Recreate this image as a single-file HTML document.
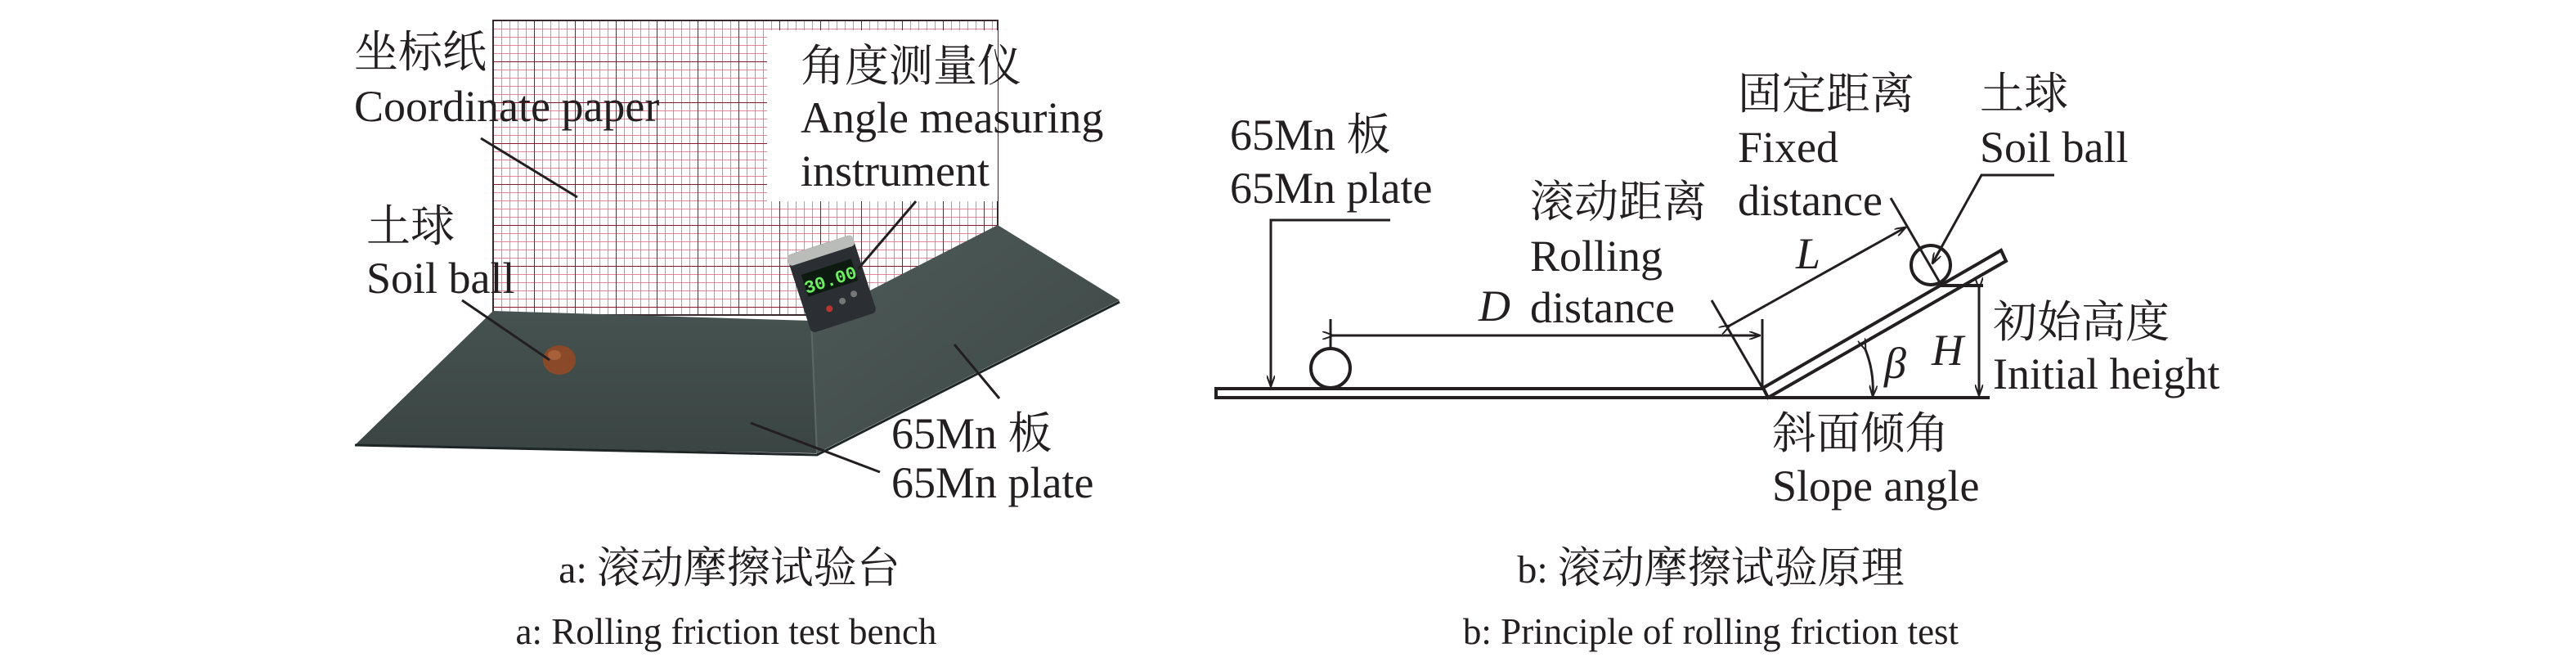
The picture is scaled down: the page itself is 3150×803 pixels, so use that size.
<!DOCTYPE html>
<html><head><meta charset="utf-8"><style>
html,body{margin:0;padding:0;background:#fff;}
svg{display:block;}
text{font-family:"Liberation Serif","Noto Serif CJK SC",serif;fill:#231f20;}
</style></head><body>
<svg width="3150" height="803" viewBox="0 0 3150 803" xmlns="http://www.w3.org/2000/svg">
<defs>
<pattern id="minor" width="10" height="10" patternUnits="userSpaceOnUse" x="603" y="25">
<path d="M0 0H10M0 0V10" stroke="#d9607a" stroke-width="1.5" fill="none"/>
</pattern>
<pattern id="major" width="50" height="50" patternUnits="userSpaceOnUse" x="603" y="25">
<path d="M0 0H50M0 0V50" stroke="#8a1a30" stroke-width="2" fill="none"/>
</pattern>
<linearGradient id="pl1" x1="0" y1="0" x2="0" y2="1">
<stop offset="0" stop-color="#465250"/><stop offset="1" stop-color="#3a4543"/>
</linearGradient>
<linearGradient id="pl2" x1="0" y1="0" x2="1" y2="1">
<stop offset="0" stop-color="#4e5a58"/><stop offset="1" stop-color="#3d4846"/>
</linearGradient>
<marker id="ar" markerWidth="14" markerHeight="10" refX="13" refY="5" orient="auto" markerUnits="userSpaceOnUse">
<path d="M0 0L14 5L0 10" fill="none" stroke="#231f20" stroke-width="2"/>
</marker>
</defs>

<rect x="603" y="25" width="617" height="360" fill="#fff"/>
<rect x="603" y="25" width="617" height="360" fill="url(#minor)"/>
<rect x="603" y="25" width="617" height="360" fill="url(#major)"/>
<rect x="603" y="25" width="617" height="360" fill="none" stroke="#3a2a2e" stroke-width="2"/>
<rect x="938" y="37" width="282" height="209" fill="#fff"/>
<polygon points="603,380 992,392 999,554 434,544" fill="url(#pl1)"/>
<polygon points="992,392 1220,275 1369,367 999,554" fill="url(#pl2)"/>
<polyline points="434,544 999,556 1369,369" fill="none" stroke="#1e2625" stroke-width="3"/>
<line x1="992" y1="392" x2="999" y2="554" stroke="#5c6866" stroke-width="2"/>
<ellipse cx="684" cy="440" rx="20" ry="18" fill="#8a4a2a"/>
<ellipse cx="678" cy="434" rx="8" ry="6" fill="#a8603a"/>
<g transform="translate(1017,347) rotate(-18)">
<rect x="-42" y="-50" width="84" height="100" rx="6" fill="#2b2f33"/>
<rect x="-42" y="-50" width="84" height="14" rx="4" fill="#b9bcb8"/>
<rect x="-32" y="-22" width="64" height="28" fill="#0d1a10"/>
<text x="0" y="2" font-size="22" text-anchor="middle" style="fill:#6cf060;font-family:'Liberation Mono',monospace;font-weight:bold">30.00</text>
<circle cx="-12" cy="28" r="4" fill="#b33"/><circle cx="6" cy="24" r="4" fill="#777"/><circle cx="22" cy="20" r="4" fill="#777"/>
</g>
<g stroke="#231f20" stroke-width="3">
<line x1="588" y1="169" x2="706" y2="241"/>
<line x1="565" y1="367" x2="672" y2="440"/>
<line x1="1120" y1="246" x2="1049" y2="329"/>
<line x1="1167" y1="421" x2="1222" y2="487"/>
<line x1="918" y1="517" x2="1076" y2="577"/>
</g>
<g font-size="54">
<text x="433" y="82">坐标纸</text>
<text x="433" y="148">Coordinate paper</text>
<text x="448" y="295">土球</text>
<text x="448" y="358">Soil ball</text>
<text x="979" y="99">角度测量仪</text>
<text x="979" y="162">Angle measuring</text>
<text x="979" y="227">instrument</text>
<text x="1090" y="548">65Mn 板</text>
<text x="1090" y="608">65Mn plate</text>
</g>
<g text-anchor="middle">
<text x="892" y="712" font-size="48">a: <tspan font-size="53">滚动摩擦试验台</tspan></text>
<text x="888" y="787" font-size="45">a: Rolling friction test bench</text>
<text x="2092" y="712" font-size="48">b: <tspan font-size="53">滚动摩擦试验原理</tspan></text>
<text x="2092" y="787" font-size="45">b: Principle of rolling friction test</text>
</g>

<g stroke="#231f20" stroke-width="4" fill="none">
<polyline points="2157,475 1487,475 1487,486 2162,486"/>
<line x1="2162" y1="486" x2="2433" y2="486"/>
<polygon points="2156,474 2447,306 2453,319 2162,486"/>
<line x1="2370" y1="349" x2="2425" y2="349"/>
<circle cx="2361" cy="324" r="24"/>
<circle cx="1627" cy="450" r="24"/>
<line x1="1627" y1="390" x2="1627" y2="425" stroke-width="3"/>
<line x1="2155" y1="390" x2="2155" y2="474" stroke-width="3"/>
<line x1="2093" y1="367" x2="2155" y2="474" stroke-width="3"/>
<line x1="2312" y1="242" x2="2373" y2="347" stroke-width="3"/>
<polyline points="1700,269 1554,269 1554,472" stroke-width="3" marker-end="url(#ar)"/>
<line x1="1630" y1="410" x2="2152" y2="410" stroke-width="3" marker-start="url(#ar)" marker-end="url(#ar)"/>
<line x1="2115" y1="398" x2="2330" y2="278" stroke-width="3" marker-start="url(#ar)" marker-end="url(#ar)"/>
<line x1="2420" y1="352" x2="2420" y2="483" stroke-width="3" marker-start="url(#ar)" marker-end="url(#ar)"/>
<polyline points="2512,214 2423,214 2363,322" stroke-width="3" marker-end="url(#ar)"/>
<path d="M2281,427 A130,130 0 0 1 2290,484" stroke-width="3" marker-start="url(#ar)" marker-end="url(#ar)"/>
</g>
<g font-size="54">
<text x="1504" y="183">65Mn 板</text>
<text x="1504" y="248">65Mn plate</text>
<text x="1871" y="265">滚动距离</text>
<text x="1871" y="331">Rolling</text>
<text x="1871" y="394">distance</text>
<text x="2125" y="133">固定距离</text>
<text x="2125" y="198">Fixed</text>
<text x="2125" y="263">distance</text>
<text x="2421" y="133">土球</text>
<text x="2421" y="198">Soil ball</text>
<text x="2437" y="412">初始高度</text>
<text x="2437" y="475">Initial height</text>
<text x="2167" y="548">斜面倾角</text>
<text x="2167" y="612">Slope angle</text>
<text x="1808" y="392" font-style="italic">D</text>
<text x="2196" y="328" font-style="italic">L</text>
<text x="2304" y="462" font-style="italic">β</text>
<text x="2362" y="446" font-style="italic">H</text>
</g>
</svg>
</body></html>
